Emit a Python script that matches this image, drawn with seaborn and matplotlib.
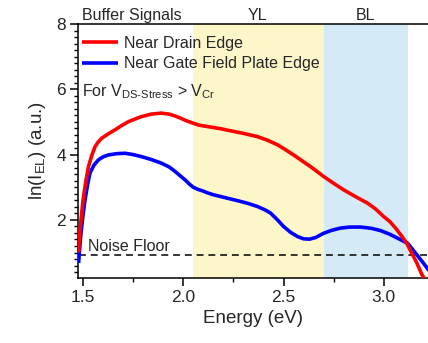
import numpy as np
import pandas as pd
import matplotlib
matplotlib.use("Agg")
import matplotlib.pyplot as plt
import seaborn as sns
from matplotlib.ticker import MultipleLocator

# ---- data ----
energy_drain = [1.478, 1.482, 1.49, 1.50, 1.513, 1.527, 1.545, 1.56, 1.575, 1.593, 1.61,
                1.63, 1.66, 1.69, 1.727, 1.76, 1.79, 1.84, 1.89, 1.93, 1.96, 1.985,
                2.01, 2.05, 2.08, 2.12, 2.18, 2.235, 2.30, 2.37, 2.42, 2.47, 2.51,
                2.55, 2.59, 2.635, 2.67, 2.70, 2.75, 2.80, 2.86, 2.92, 2.96, 3.0,
                3.03, 3.06, 3.09, 3.115, 3.14, 3.165, 3.19, 3.21]
ln_drain = [1.0, 1.5, 2.0, 2.6, 3.15, 3.63, 4.0, 4.24, 4.38, 4.5, 4.57,
            4.65, 4.76, 4.88, 5.01, 5.09, 5.16, 5.24, 5.27, 5.24, 5.18, 5.12,
            5.05, 4.96, 4.90, 4.86, 4.80, 4.73, 4.65, 4.55, 4.44, 4.30, 4.15,
            3.99, 3.82, 3.63, 3.47, 3.33, 3.12, 2.92, 2.71, 2.51, 2.33, 2.10,
            1.95, 1.74, 1.50, 1.28, 0.98, 0.68, 0.33, 0.12]

energy_gate = [1.478, 1.483, 1.49, 1.50, 1.51, 1.522, 1.535, 1.555, 1.577, 1.60, 1.627,
               1.67, 1.71, 1.75, 1.79, 1.84, 1.89, 1.93, 1.96, 2.01, 2.03, 2.05,
               2.075, 2.10, 2.12, 2.15, 2.21, 2.27, 2.32, 2.37, 2.41, 2.435, 2.47,
               2.50, 2.535, 2.57, 2.60, 2.63, 2.66, 2.70, 2.74, 2.785, 2.83, 2.885,
               2.94, 2.985, 3.03, 3.085, 3.12, 3.16, 3.195, 3.225]
ln_gate = [0.68, 1.1, 1.6, 2.15, 2.61, 3.05, 3.44, 3.68, 3.84, 3.93, 3.99,
           4.03, 4.04, 4.0, 3.94, 3.85, 3.74, 3.62, 3.48, 3.22, 3.10, 3.0,
           2.93, 2.88, 2.83, 2.77, 2.68, 2.59, 2.51, 2.41, 2.30, 2.21, 2.0,
           1.80, 1.62, 1.49, 1.42, 1.41, 1.46, 1.59, 1.68, 1.75, 1.78, 1.78,
           1.74, 1.67, 1.56, 1.39, 1.28, 0.97, 0.70, 0.45]

noise_floor = 0.93
region_names = ["Buffer Signals", "YL", "BL"]
region_bounds = [(1.475, 2.05), (2.05, 2.70), (2.70, 3.12)]
series_names = ["Near Drain Edge", "Near Gate Field Plate Edge"]

# ---- style ----
sns.set_theme(style="ticks")
plt.rcParams["font.family"] = ["Liberation Sans", "DejaVu Sans"]
plt.rcParams["mathtext.fontset"] = "custom"
plt.rcParams["mathtext.rm"] = "Liberation Sans"
plt.rcParams["mathtext.it"] = "Liberation Sans:italic"
plt.rcParams["mathtext.bf"] = "Liberation Sans:bold"

fig = plt.figure(figsize=(4.28, 3.43), dpi=100)
ax = fig.add_axes([78/428, 1-278/343, 1-78/428 + 0.002, (278-24)/343])

ax.axvspan(region_bounds[1][0], region_bounds[1][1], color="#FDF6C9", lw=0, zorder=0)
ax.axvspan(region_bounds[2][0], region_bounds[2][1], color="#D5EAF7", lw=0, zorder=0)

df_d = pd.DataFrame({"E": energy_drain, "v": ln_drain})
df_g = pd.DataFrame({"E": energy_gate, "v": ln_gate})
sns.lineplot(data=df_g, x="E", y="v", sort=False, color="#0000FF", lw=2.6,
             label=series_names[1], ax=ax, zorder=3)
sns.lineplot(data=df_d, x="E", y="v", sort=False, color="#FF0000", lw=2.6,
             label=series_names[0], ax=ax, zorder=4)
for ln in ax.lines:
    ln.set_solid_joinstyle("round")
    ln.set_solid_capstyle("butt")

ax.axhline(noise_floor, xmin=0.003, color="black", lw=1.1, ls=(0, (4.5, 3.2)), zorder=2)

ax.set_xlim(1.475, 3.225)
ax.set_ylim(0.22, 8)
ax.xaxis.set_major_locator(MultipleLocator(0.5))
ax.xaxis.set_minor_locator(MultipleLocator(0.25))
ax.yaxis.set_major_locator(MultipleLocator(2))
ax.yaxis.set_minor_locator(MultipleLocator(0.2))
ax.set_yticks([2, 4, 6, 8])
ax.set_xticks([1.5, 2.0, 2.5, 3.0])
ax.tick_params(which="major", length=5.5, width=1.1, labelsize=12.5, pad=3, color="black")
ax.tick_params(which="minor", length=3, width=1.0, color="black")
ax.tick_params(axis="x", which="both", top=False)

for s in ["left", "bottom", "top"]:
    ax.spines[s].set_linewidth(1.1)
    ax.spines[s].set_color("black")
ax.spines["right"].set_visible(False)

ax.set_xlabel("Energy (eV)", fontsize=13.5, labelpad=4)
ax.set_ylabel(r"ln(I$_{\mathregular{EL}}$) (a.u.)", fontsize=13.5, labelpad=6)

h, l = ax.get_legend_handles_labels()
order = [l.index(series_names[0]), l.index(series_names[1])]
ax.legend([h[i] for i in order], [l[i] for i in order], loc="upper left",
          bbox_to_anchor=(-0.003, 0.972),
          frameon=False, fontsize=11.5, handlelength=2.3, handletextpad=0.35,
          labelspacing=0.35, borderaxespad=0.0, borderpad=0.3)

centers = [1.745, 2.37, 2.91]
for name, cx in zip(region_names, centers):
    ax.text(cx, 8.11, name, ha="center", va="baseline", fontsize=11.5, clip_on=False)

ax.text(1.497, 5.80, r"For V$_{\mathregular{DS\text{-}Stress}}$ > V$_{\mathregular{Cr}}$",
        fontsize=11.5, va="baseline", ha="left")
ax.text(1.523, 1.06, "Noise Floor", fontsize=11.5, va="baseline", ha="left")

fig.savefig("out.png", dpi=100)
